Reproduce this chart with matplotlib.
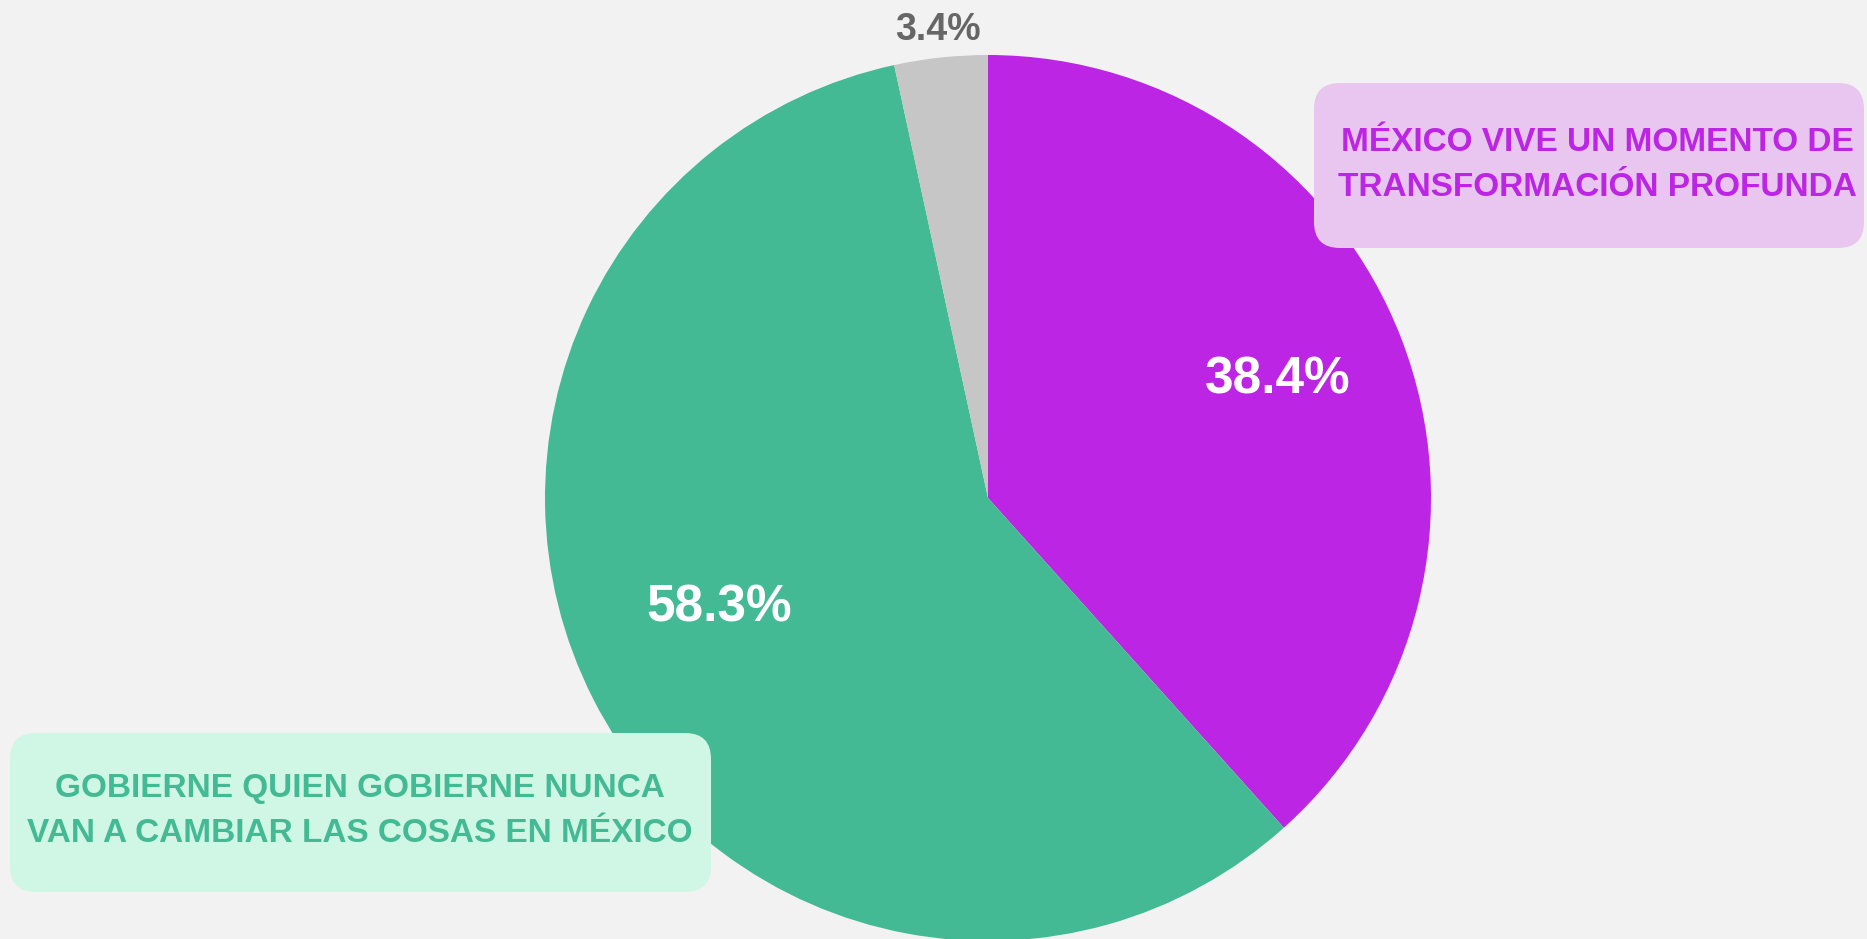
import numpy as np
import matplotlib
matplotlib.use("Agg")
import matplotlib.pyplot as plt
from matplotlib.patches import FancyBboxPatch

# data
categories = ["MÉXICO VIVE UN MOMENTO DE\nTRANSFORMACIÓN PROFUNDA",
              "GOBIERNE QUIEN GOBIERNE NUNCA\nVAN A CAMBIAR LAS COSAS EN MÉXICO",
              "NS/NC"]
values = [38.4, 58.3, 3.4]
colors = ["#BB25E3", "#44BA94", "#C6C6C6"]

W, H = 1867, 939
fig = plt.figure(figsize=(W / 100, H / 100), dpi=100, facecolor="#F2F2F2")
ax = fig.add_axes([0, 0, 1, 1])

cx, cy, R = 988, 441, 443
wedges, _ = ax.pie(values, colors=colors, startangle=90, counterclock=False,
                   center=(cx, cy), radius=R, frame=True,
                   wedgeprops=dict(linewidth=0))
ax.set_xlim(0, W)
ax.set_ylim(0, H)
ax.axis("off")

font = ["Liberation Sans", "DejaVu Sans"]

# percentage labels
dist = [0.705, 0.655, 1.062]
shift = [1.2, -4.7, 0]
lab_col = ["white", "white", "#666666"]
lab_size = [37, 37, 27]
for w, v, d, s, c, fs in zip(wedges, values, dist, shift, lab_col, lab_size):
    a = np.deg2rad((w.theta1 + w.theta2) / 2 + s)
    ax.text(cx + d * R * np.cos(a), cy + d * R * np.sin(a), f"{v}%",
            ha="center", va="center", color=c, fontsize=fs,
            fontweight="bold", family=font)

# legend boxes
boxes = [(1314, 691, 550, 165, "#E8C6EF", 1597, 774),
         (10, 47, 701, 159, "#D0F7E5", 360, 128)]
for (x0, y0, bw, bh, fc, tx, ty), lab, col in zip(boxes, categories[:2], colors[:2]):
    ax.add_patch(FancyBboxPatch((x0, y0), bw, bh,
                                boxstyle="round,pad=0,rounding_size=26",
                                fc=fc, ec="none", zorder=5))
    ax.text(tx, ty, lab, ha="center", va="center", color=col, fontsize=24,
            fontweight="bold", family=font, linespacing=1.62, zorder=6)

fig.savefig("out.png", dpi=100, facecolor=fig.get_facecolor())
